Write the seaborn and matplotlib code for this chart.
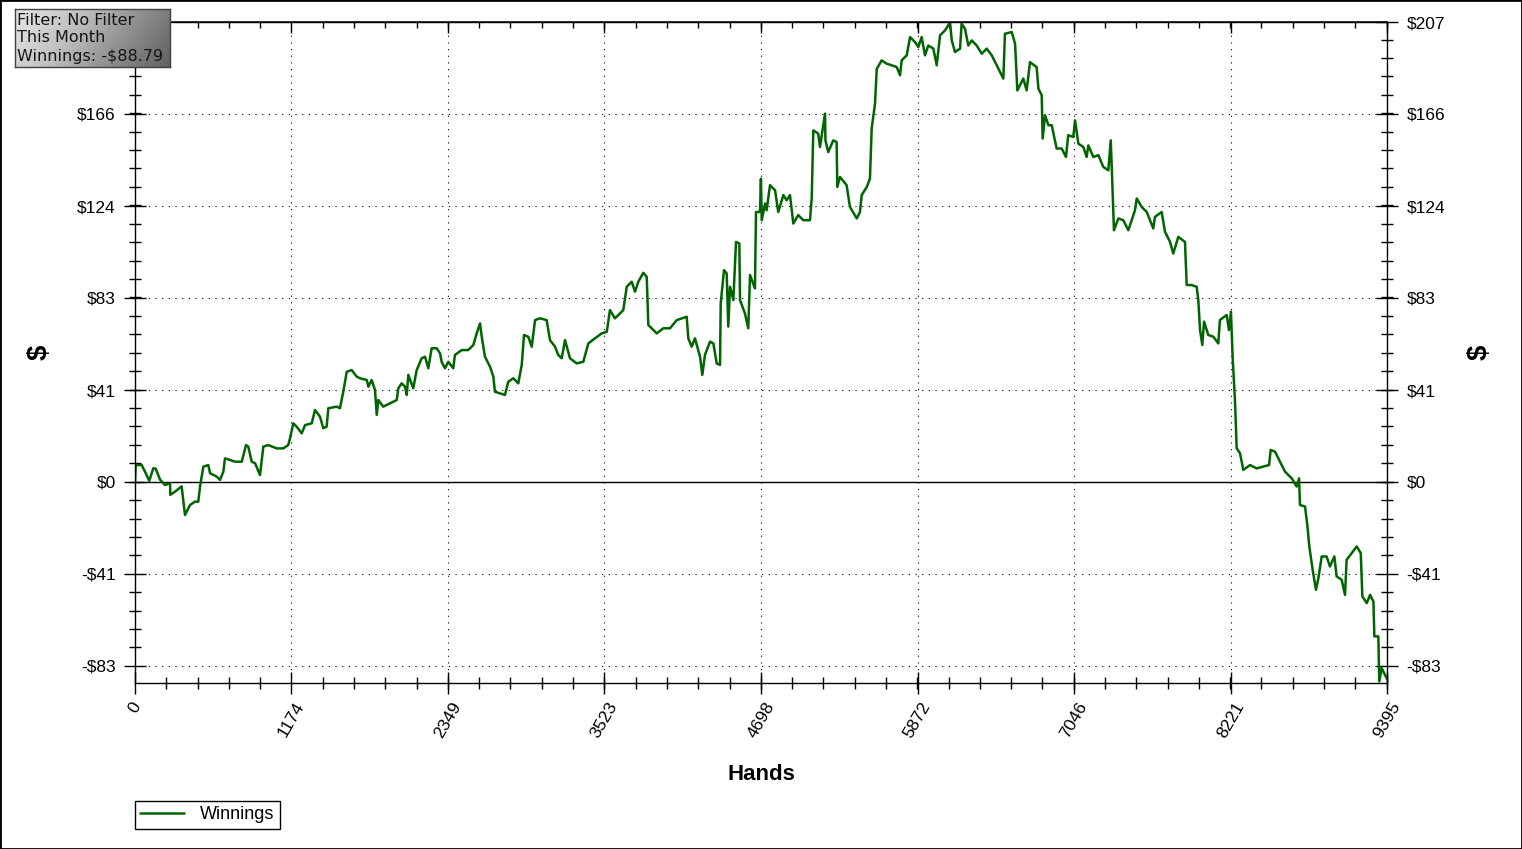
import numpy as np
import pandas as pd
import matplotlib
matplotlib.use('Agg')
import matplotlib.pyplot as plt
import seaborn as sns
from matplotlib.patches import Rectangle
from matplotlib.ticker import AutoMinorLocator

# Cumulative winnings
hands = [0, 5, 50, 75, 107, 137, 155, 188, 225, 263, 265, 300, 350, 375, 413, 450, 475, 488,
         513, 550, 563, 613, 638, 663, 675, 713, 750, 801, 833, 850, 876, 901, 938, 963,
         1000, 1063, 1113, 1150, 1163, 1188, 1213, 1251, 1276, 1326, 1351, 1388, 1413, 1438,
         1451, 1514, 1538, 1563, 1589, 1626, 1664, 1688, 1739, 1751, 1776, 1801, 1814, 1826,
         1863, 1914, 1964, 1976, 2001, 2026, 2039, 2051, 2088, 2114, 2151, 2176, 2201, 2226,
         2264, 2289, 2301, 2326, 2351, 2388, 2401, 2452, 2501, 2539, 2564, 2589, 2602, 2626,
         2664, 2689, 2701, 2739, 2776, 2801, 2839, 2876, 2902, 2919, 2951, 2977, 3002, 3039,
         3089, 3114, 3152, 3176, 3202, 3227, 3264, 3314, 3364, 3402, 3452, 3502, 3540, 3564,
         3602, 3664, 3690, 3727, 3752, 3777, 3814, 3840, 3852, 3915, 3964, 4015, 4065, 4140,
         4152, 4177, 4202, 4240, 4257, 4277, 4315, 4340, 4365, 4390, 4395, 4420, 4440, 4452,
         4465, 4490, 4510, 4535, 4540, 4577, 4602, 4615, 4652, 4660, 4690, 4697, 4703, 4728,
         4740, 4765, 4803, 4827, 4865, 4890, 4915, 4940, 4977, 5015, 5065, 5078, 5090, 5127,
         5140, 5178, 5181, 5202, 5240, 5265, 5270, 5290, 5340, 5365, 5416, 5440, 5453, 5491,
         5515, 5528, 5553, 5566, 5603, 5641, 5678, 5716, 5741, 5753, 5791, 5816, 5854, 5878,
         5903, 5928, 5953, 5991, 6016, 6041, 6078, 6116, 6129, 6153, 6191, 6203, 6228, 6253,
         6279, 6316, 6354, 6391, 6429, 6466, 6516, 6528, 6579, 6604, 6621, 6666, 6691, 6716,
         6766, 6779, 6804, 6811, 6829, 6854, 6879, 6916, 6954, 6986, 7003, 7041, 7054, 7079,
         7116, 7141, 7154, 7191, 7229, 7266, 7304, 7322, 7334, 7346, 7379, 7416, 7454, 7479,
         7504, 7517, 7554, 7592, 7641, 7654, 7704, 7729, 7767, 7791, 7829, 7879, 7892, 7929,
         7967, 7979, 7992, 8009, 8022, 8054, 8092, 8129, 8141, 8192, 8209, 8224, 8237, 8254,
         8267, 8292, 8317, 8367, 8417, 8467, 8510, 8522, 8555, 8592, 8630, 8680, 8717, 8735,
         8742, 8780, 8797, 8812, 8837, 8862, 8880, 8905, 8942, 8967, 9000, 9017, 9055, 9080,
         9092, 9130, 9168, 9198, 9210, 9243, 9268, 9293, 9300, 9330, 9337, 9355, 9380, 9395]

winnings = [0, 7.6, 7.6, 4.6, 0.5, 6.1, 6.0, 1.0, -1.4, -0.6, -5.8, -4.4, -2.0, -14.9, -10.4, -8.9, -8.9, -2.0,
            6.9, 7.6, 3.9, 2.4, 0.9, 4.6, 10.6, 9.9, 9.1, 9.1, 16.6, 15.9, 9.1, 8.4, 3.1, 15.9,
            16.6, 15.1, 15.1, 16.6, 19.6, 26.4, 24.9, 21.9, 25.6, 26.4, 32.4, 29.4, 24.2, 24.9,
            33.2, 33.9, 33.2, 40.6, 49.6, 50.4, 47.4, 46.7, 45.9, 42.9, 45.9, 41.4, 30.2, 36.9,
            33.9, 35.4, 36.9, 42.2, 44.4, 42.9, 39.2, 48.2, 42.2, 50.4, 55.7, 56.4, 51.2, 60.2,
            60.2, 57.9, 54.1, 51.2, 54.1, 51.2, 57.2, 59.4, 59.4, 61.7, 66.9, 71.4, 65.4, 56.4,
            51.9, 47.4, 40.6, 39.9, 39.2, 45.1, 46.7, 44.4, 52.7, 66.2, 65.4, 60.9, 72.9, 73.7,
            72.9, 63.9, 60.9, 57.2, 55.7, 63.9, 55.7, 53.4, 54.1, 62.4, 64.7, 66.9, 67.6, 77.4,
            73.7, 77.4, 87.9, 90.2, 85.7, 90.2, 94.2, 92.4, 70.7, 66.9, 69.2, 69.2, 72.9, 74.4,
            64.7, 60.9, 64.7, 56.4, 48.2, 57.2, 63.2, 62.4, 53.4, 52.7, 80.4, 95.4, 93.9, 70.0,
            87.9, 81.9, 108.1, 107.4, 81.9, 75.9, 69.2, 93.2, 87.2, 121.6, 121.6, 136.6, 117.9, 125.4,
            122.4, 133.7, 131.4, 121.6, 129.2, 126.9, 129.2, 116.4, 120.2, 117.9, 117.9, 127.7, 158.4, 156.9,
            150.9, 165.9, 153.9, 148.6, 153.9, 153.1, 132.9, 137.4, 133.7, 123.9, 118.7, 121.6, 129.2, 132.9,
            136.6, 159.2, 170.4, 186.1, 189.9, 188.4, 187.7, 186.9, 183.2, 189.9, 192.2, 200.4, 198.1, 195.9,
            200.4, 192.2, 196.6, 195.2, 187.7, 201.2, 203.4, 207.0, 198.9, 193.7, 195.2, 206.4, 204.2, 196.6,
            198.9, 196.6, 192.9, 195.2, 192.2, 187.7, 181.7, 201.9, 202.7, 197.4, 176.4, 181.7, 176.4, 189.1,
            186.9, 177.2, 174.2, 154.7, 165.2, 160.7, 160.7, 150.2, 150.2, 146.4, 156.2, 155.4, 162.9, 152.4,
            150.9, 146.4, 151.6, 146.4, 147.2, 141.9, 140.4, 153.9, 134.4, 113.4, 118.7, 117.9, 113.4, 117.9,
            122.4, 127.7, 123.9, 121.6, 114.2, 119.4, 121.6, 112.7, 108.1, 102.9, 110.4, 108.1, 88.7, 88.7,
            87.9, 81.9, 68.4, 61.7, 72.2, 66.2, 65.4, 62.4, 72.9, 75.2, 68.4, 76.7, 55.7, 36.9,
            15.1, 12.9, 5.4, 7.6, 6.1, 6.9, 7.6, 14.4, 13.6, 9.1, 4.6, 1.6, -2.1, 1.6,
            -10.4, -11.1, -19.4, -29.1, -39.6, -48.6, -43.4, -33.6, -33.6, -38.1, -33.6, -42.6, -44.1, -50.9,
            -35.1, -32.1, -29.1, -32.1, -51.6, -54.6, -50.9, -53.9, -69.6, -69.6, -89.9, -83.9, -86.9, -88.79]

x_ticks = [0, 1174, 2349, 3523, 4698, 5872, 7046, 8221, 9395]
y_ticks = [-82.9, -41.4, 0, 41.4, 82.9, 124.3, 165.8, 207.2]
y_labels = ['-$83', '-$41', '$0', '$41', '$83', '$124', '$166', '$207']
info_lines = ['Filter: No Filter', 'This Month', 'Winnings: -$88.79']

df = pd.DataFrame({'Hands': hands, 'Winnings': winnings})

sns.set_theme(style='white')
plt.rcParams['font.family'] = ['Liberation Sans', 'DejaVu Sans']
plt.rcParams['text.color'] = 'black'
plt.rcParams['xtick.color'] = 'black'
plt.rcParams['ytick.color'] = 'black'
plt.rcParams['axes.labelcolor'] = 'black'

fig = plt.figure(figsize=(15.22, 8.49), dpi=100)
ax = fig.add_axes([135 / 1522, 1 - 683 / 849, 1252 / 1522, 661 / 849])

sns.lineplot(data=df, x='Hands', y='Winnings', ax=ax, color='#006400', linewidth=1.8,
             label='Winnings', estimator=None)
ax.axhline(0, color='black', linewidth=1, zorder=1)

ax.set_xlim(0, 9395)
ax.set_ylim(-90.6, 207.2)
ax.set_xticks(x_ticks)
ax.set_xticklabels([str(v) for v in x_ticks], rotation=60, fontsize=12.5)
ax.set_yticks(y_ticks)
ax.set_yticklabels(y_labels, fontsize=12.5)
ax.xaxis.set_minor_locator(AutoMinorLocator(5))
ax.yaxis.set_minor_locator(AutoMinorLocator(5))

ax.grid(True, which='major', color='black', linestyle=(0, (1, 5)), linewidth=0.8)
for s in ax.spines.values():
    s.set_color('black')
    s.set_linewidth(1)

ax.tick_params(axis='x', which='both', bottom=True, top=False, direction='inout', color='black')
ax.tick_params(axis='x', which='major', length=16, width=1, pad=4)
ax.tick_params(axis='x', which='minor', length=8, width=1)
ax.tick_params(axis='y', which='both', left=True, right=True, labelleft=True, labelright=True,
               direction='inout', color='black')
ax.tick_params(axis='y', which='major', length=16, width=1, pad=6)
ax.tick_params(axis='y', which='minor', length=8, width=1)

# the info box hides the top left tick label in the reference
ax.yaxis.get_major_ticks()[-1].label1.set_visible(False)

top = ax.secondary_xaxis('top')
top.set_xticks(x_ticks)
top.set_xticklabels([])
top.xaxis.set_minor_locator(AutoMinorLocator(5))
top.tick_params(axis='x', which='both', direction='in', color='black')
top.tick_params(axis='x', which='major', length=8, width=1)
top.tick_params(axis='x', which='minor', length=4, width=1)

ax.set_xlabel('')
ax.set_ylabel('')
fig.text(761 / 1522, 1 - 775 / 849, 'Hands', ha='center', va='center', fontsize=16, fontweight='bold')
fig.text(40 / 1522, 1 - 352 / 849, '$', ha='center', va='center', rotation=90, fontsize=20, fontweight='bold')
fig.text(1480 / 1522, 1 - 352 / 849, '$', ha='center', va='center', rotation=90, fontsize=20, fontweight='bold')

leg = ax.legend(loc='upper left', bbox_to_anchor=(0, -0.1785), borderaxespad=0, fontsize=13,
                fancybox=False, edgecolor='black', framealpha=1, handlelength=2.4, handletextpad=0.9,
                borderpad=0.3)
leg.get_frame().set_linewidth(1)

# info box with grey gradient
box = fig.add_axes([15 / 1522, 1 - 67 / 849, 155 / 1522, 58 / 849])
gx, gy = np.meshgrid(np.linspace(0, 1, 200), np.linspace(0, 1, 60))
grad = 0.8 * gx + 0.2 * gy
box.imshow(grad, cmap='Greys', vmin=-0.35, vmax=1.6, aspect='auto', extent=(0, 1, 0, 1), origin='upper')
box.set_xlim(0, 1)
box.set_ylim(0, 1)
box.set_xticks([])
box.set_yticks([])
for s in box.spines.values():
    s.set_color('#404040')
    s.set_linewidth(1)
for y, line in zip([0.81, 0.5, 0.18], info_lines):
    box.text(0.013, y, line, ha='left', va='center', fontsize=11.5,
             family='DejaVu Sans', color='#151515')

fig.patches.append(Rectangle((0, 0), 1, 1, transform=fig.transFigure, fill=False,
                             edgecolor='black', linewidth=2))

plt.savefig('out.png', dpi=100)
plt.close()
